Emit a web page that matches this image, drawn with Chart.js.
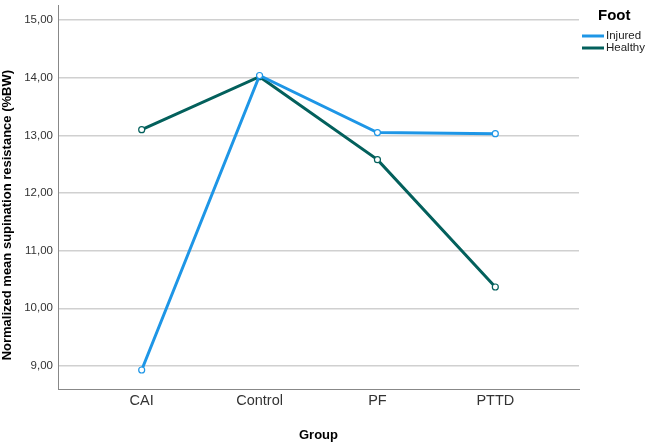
<!DOCTYPE html>
<html>
<head>
<meta charset="utf-8">
<script src="https://cdn.jsdelivr.net/npm/chart.js@4"></script>
<style>
html, body { margin: 0; padding: 0; background: #fff; }
#wrap { width: 648px; height: 443px; position: relative; }
</style>
</head>
<body>
<div id="wrap"><canvas id="chart"></canvas></div>
<script>
const groups = ['CAI', 'Control', 'PF', 'PTTD'];
const injured = [8.93, 14.04, 13.05, 13.03];
const healthy = [13.10, 14.02, 12.58, 10.37];
const yTicks = [9, 10, 11, 12, 13, 14, 15];

const injuredColor = '#1e96e6';
const healthyColor = '#03605c';
const fontFamily = "'Liberation Sans', Arial, sans-serif";

function toPoints(values) {
  return values.map((v, i) => ({ x: i, y: v }));
}

// legend drawn by hand so it sits where SPSS puts it
const footLegend = {
  id: 'footLegend',
  afterDraw(chart) {
    const ctx = chart.ctx;
    ctx.save();
    ctx.fillStyle = '#000';
    ctx.font = 'bold 15px ' + fontFamily;
    ctx.textBaseline = 'middle';
    ctx.fillText('Foot', 598, 16);
    const items = [['Injured', injuredColor, 36], ['Healthy', healthyColor, 48]];
    ctx.font = '11.5px ' + fontFamily;
    items.forEach(([label, color, y]) => {
      ctx.strokeStyle = color;
      ctx.lineWidth = 3;
      ctx.beginPath();
      ctx.moveTo(582, y);
      ctx.lineTo(604, y);
      ctx.stroke();
      ctx.fillStyle = '#222';
      ctx.fillText(label, 606, y);
    });
    ctx.restore();
  }
};

new Chart(document.getElementById('chart'), {
  type: 'line',
  data: {
    datasets: [
      { label: 'Injured', data: toPoints(injured), borderColor: injuredColor, backgroundColor: 'transparent',
        pointBorderColor: injuredColor, pointBackgroundColor: '#fff', borderWidth: 3, pointRadius: 3, pointBorderWidth: 1.2 },
      { label: 'Healthy', data: toPoints(healthy), borderColor: healthyColor, backgroundColor: 'transparent',
        pointBorderColor: healthyColor, pointBackgroundColor: '#fff', borderWidth: 3, pointRadius: 3, pointBorderWidth: 1.2 }
    ]
  },
  options: {
    responsive: true,
    maintainAspectRatio: false,
    animation: false,
    layout: { padding: { left: 0, right: 69, top: 0, bottom: 0 } },
    plugins: { legend: { display: false }, tooltip: { enabled: false } },
    scales: {
      x: {
        type: 'linear',
        min: -0.71,
        max: 3.71,
        afterBuildTicks(axis) { axis.ticks = groups.map((g, i) => ({ value: i })); },
        afterFit(axis) { axis.height = 54; axis.paddingLeft = 0; axis.paddingRight = 0; },
        ticks: {
          callback: v => groups[v] ?? '',
          color: '#333',
          font: { family: fontFamily, size: 14.5 },
          padding: 3
        },
        grid: { display: false, drawTicks: false },
        border: { color: '#888', width: 1 },
        title: { display: true, text: 'Group', color: '#000', font: { family: fontFamily, size: 13, weight: 'bold' }, padding: { top: 0, bottom: 0 } }
      },
      y: {
        min: 8.6,
        max: 15.26,
        afterBuildTicks(axis) { axis.ticks = yTicks.map(v => ({ value: v })); },
        afterFit(axis) { axis.width = 58; axis.paddingTop = 0; axis.paddingBottom = 0; },
        ticks: {
          callback: v => v.toFixed(2).replace('.', ','),
          color: '#333',
          font: { family: fontFamily, size: 11.5 },
          padding: 5
        },
        grid: { color: '#d0d0d0', lineWidth: 1.5, drawTicks: false },
        border: { color: '#888', width: 1 },
        // trailing spaces push the visible title a little lower, as in the original
        title: { display: true, text: 'Normalized mean supination resistance (%BW)          ', color: '#000', font: { family: fontFamily, size: 13, weight: 'bold' }, padding: { top: 0, bottom: 0 } }
      }
    }
  },
  plugins: [footLegend]
});
</script>
</body>
</html>
